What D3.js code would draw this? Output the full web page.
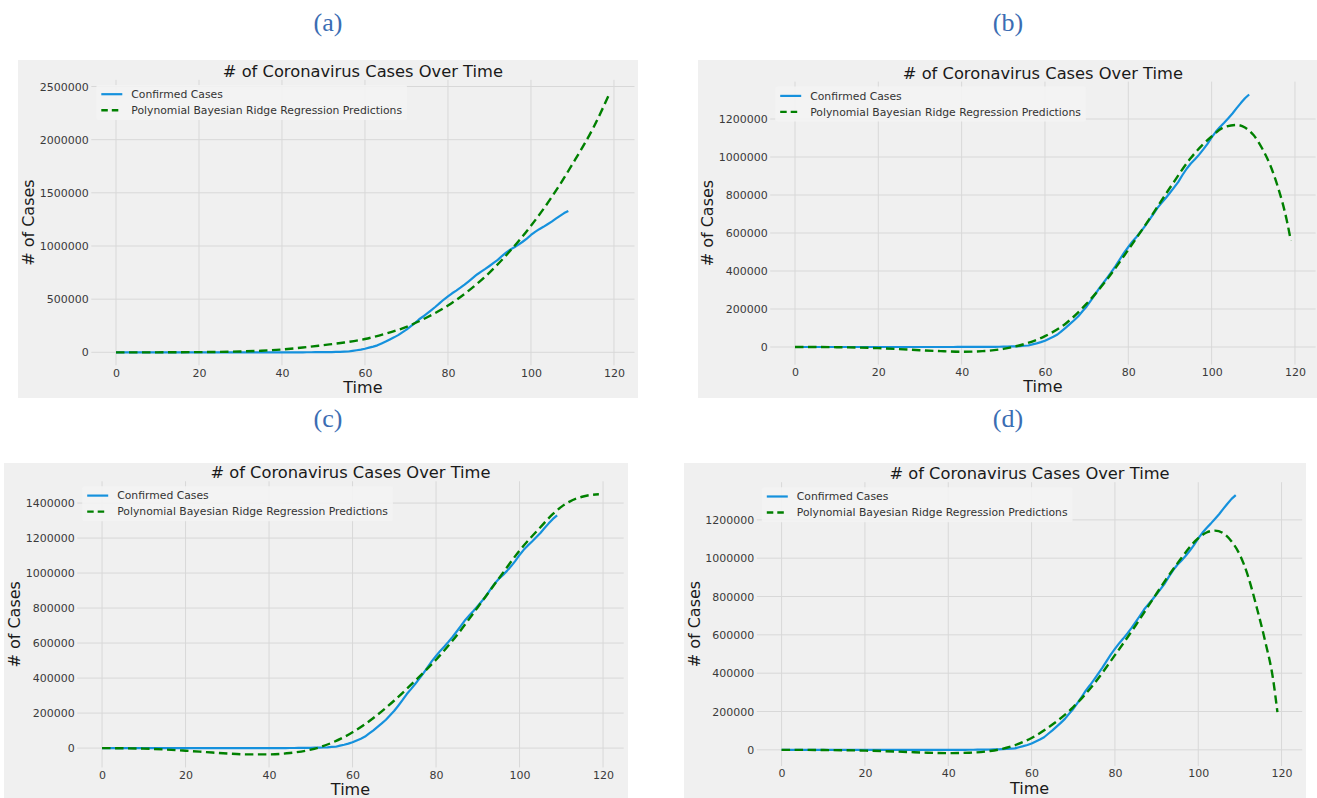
<!DOCTYPE html>
<html><head><meta charset="utf-8">
<script src="https://cdn.jsdelivr.net/npm/d3@7"></script>
<style>
body{margin:0;background:#fff;}
svg{display:block;}
text{font-family:"DejaVu Sans","Noto Sans",sans-serif;}
</style>
</head><body>
<svg id="chart" width="1317" height="798"></svg>
<script>
// ---------- DATA ----------
// Confirmed cases, day 0 .. 109
const confirmed = [
  1,1,2,2,5,5,5,5,5,7,
  8,8,11,11,11,12,12,12,12,12,
  13,13,14,14,14,14,14,14,14,14,
  16,16,16,16,16,16,17,25,32,
  75,100,124,158,221,319,435,541,704,994,
  1281,1663,2179,2727,3499,4632,6421,7783,13747,19273,25600,
  33276,43843,53736,65778,83836,101657,121478,140886,161807,188172,
  213242,243622,275367,308650,336802,366317,397121,428654,462780,496535,
  526396,555313,580619,607670,636350,667592,699706,732197,758809,784326,
  811865,840351,869170,905358,938154,965785,988197,1012582,1039909,1069424,
  1103461,1132539,1158040,1180375,1204351,1229331,1257023,1283929,1309550,1329260
];

// Polynomial Bayesian Ridge Regression predictions
const predDaysA = [0,5,10,15,20,25,30,35,40,45,50,55,60,65,70,75,80,85,90,95,100,105,110,115,119];
const predA     = [0,0,0,1000,2000,4000,8000,15000,27000,45000,68000,92000,125000,175000,240000,330000,440000,580000,750000,955000,1190000,1460000,1770000,2110000,2440000];

const predDaysB = [0,5,10,15,20,25,30,35,40,45,50,55,60,65,70,75,80,85,90,95,100,103,106,108,110,112,114,116,117,118,119];
const predB     = [0,0,-1000,-3000,-6000,-11000,-17000,-22000,-25000,-22000,-10000,15000,57000,124000,228000,359000,512000,672000,838000,995000,1108000,1157000,1169000,1155000,1117000,1050000,960000,835000,760000,670000,560000];

const predDaysC = [0,5,10,15,20,25,30,35,40,45,50,55,60,65,70,75,80,85,90,95,100,105,108,110,112,115,117,119];
const predC     = [0,-1000,-3000,-8000,-15000,-23000,-31000,-36000,-36000,-28000,-9000,30000,90000,172000,272000,385000,505000,645000,805000,968000,1128000,1262000,1338000,1378000,1408000,1436000,1446000,1450000];

const predDaysD = [0,5,10,15,20,25,30,35,40,45,50,55,60,65,70,75,80,85,90,95,100,102,104,106,108,110,112,114,116,118,119];
const predD     = [0,0,-1000,-2000,-4000,-7000,-11000,-15000,-17000,-15000,-6000,17000,62000,132000,223000,345000,494000,650000,816000,973000,1104000,1134000,1144000,1130000,1087000,1017000,903000,746000,572000,363000,197000];

const xTicks  = [0,20,40,60,80,100,120];
const yTicksA = [0,500000,1000000,1500000,2000000,2500000];
const yTicksB = [0,200000,400000,600000,800000,1000000,1200000];
const yTicksC = [0,200000,400000,600000,800000,1000000,1200000,1400000];
const yTicksD = [0,200000,400000,600000,800000,1000000,1200000];

const panelLabels = ["(a)","(b)","(c)","(d)"];
const titleText = "# of Coronavirus Cases Over Time";
const xLabelText = "Time";
const yLabelText = "# of Cases";
const legendLabels = ["Confirmed Cases","Polynomial Bayesian Ridge Regression Predictions"];

// ---------- LAYOUT ----------
const panels = [
  {label:panelLabels[0], days:predDaysA, pred:predA, yTicks:yTicksA, bg:[18,60,638,398],   ax:[91.3,634.5,79.9,365.3],   lab:[328,22]},
  {label:panelLabels[1], days:predDaysB, pred:predB, yTicks:yTicksB, bg:[698,60,1317,398], ax:[770.2,1315.6,81.6,364.6], lab:[1008,22]},
  {label:panelLabels[2], days:predDaysC, pred:predC, yTicks:yTicksC, bg:[4,463,628,798],   ax:[77.2,623.7,481.3,767.4],  lab:[328,418]},
  {label:panelLabels[3], days:predDaysD, pred:predD, yTicks:yTicksD, bg:[684,463,1306,798],ax:[756.8,1302.2,482.2,766],  lab:[1008,418]}
];

const BLUE = "#1591dd", GREEN = "#008000", GRID = "#d8d8d8", BG = "#f0f0f0";
const svg = d3.select("#chart");

panels.forEach(p => {
  const g = svg.append("g");
  const [bx0,by0,bx1,by1] = p.bg;
  g.append("rect").attr("x",bx0).attr("y",by0).attr("width",bx1-bx0).attr("height",by1-by0).attr("fill",BG);

  // panel label
  svg.append("text").attr("x",p.lab[0]).attr("y",p.lab[1])
    .attr("text-anchor","middle").attr("dominant-baseline","central")
    .style("font-family","'Liberation Serif','Times New Roman',serif")
    .style("font-size","26px").attr("fill","#3b6db3").text(p.label);

  const [L,R,T,B] = p.ax;
  // auto margins like matplotlib (5%)
  const xMin = 0, xMax = d3.max([confirmed.length-1, d3.max(p.days)]);
  const xPad = (xMax-xMin)*0.05;
  const x = d3.scaleLinear().domain([xMin-xPad, xMax+xPad]).range([L,R]);
  const allY = confirmed.concat(p.pred);
  const yLo = d3.min(allY), yHi = d3.max(allY), yPad = (yHi-yLo)*0.05;
  const y = d3.scaleLinear().domain([yLo-yPad, yHi+yPad]).range([B,T]);

  // grid
  g.append("g").selectAll("line").data(xTicks).join("line")
    .attr("x1",d=>x(d)).attr("x2",d=>x(d)).attr("y1",T).attr("y2",B)
    .attr("stroke",GRID).attr("stroke-width",1);
  g.append("g").selectAll("line").data(p.yTicks).join("line")
    .attr("x1",L).attr("x2",R).attr("y1",d=>y(d)).attr("y2",d=>y(d))
    .attr("stroke",GRID).attr("stroke-width",1);

  // axes
  const xAxis = g.append("g").attr("transform",`translate(0,${B})`)
    .call(d3.axisBottom(x).tickValues(xTicks).tickSize(0).tickPadding(3.5).tickFormat(d3.format("d")));
  const yAxis = g.append("g").attr("transform",`translate(${L},0)`)
    .call(d3.axisLeft(y).tickValues(p.yTicks).tickSize(0).tickPadding(2.5).tickFormat(d3.format("d")));
  [xAxis,yAxis].forEach(a => {
    a.select(".domain").remove();
    a.selectAll("text").style("font-family","'DejaVu Sans',sans-serif").style("font-size","11px").attr("fill","#3a3a3a");
  });

  // lines
  const lineC = d3.line().x((d,i)=>x(i)).y(d=>y(d));
  g.append("path").datum(confirmed).attr("d",lineC)
    .attr("fill","none").attr("stroke",BLUE).attr("stroke-width",2.2).attr("stroke-linejoin","round");
  const lineP = d3.line().x(d=>x(d[0])).y(d=>y(d[1])).curve(d3.curveMonotoneX);
  g.append("path").datum(p.days.map((d,i)=>[d,p.pred[i]])).attr("d",lineP)
    .attr("fill","none").attr("stroke",GREEN).attr("stroke-width",2.4).attr("stroke-dasharray","8.5,4.5");

  // legend
  const lx = L+5, ly = T+5;
  const leg = g.append("g");
  const box = leg.append("rect").attr("x",lx).attr("y",ly).attr("height",35).attr("fill","#f3f3f3").attr("fill-opacity",0.9).attr("rx",2);
  let maxW = 0;
  legendLabels.forEach((t,i) => {
    const cy = ly + 9.3 + i*16;
    leg.append("line").attr("x1",lx+5).attr("x2",lx+26).attr("y1",cy).attr("y2",cy)
      .attr("stroke", i===0?BLUE:GREEN).attr("stroke-width", i===0?2.2:2.4)
      .attr("stroke-dasharray", i===0?null:"6.5,4");
    const tx = leg.append("text").attr("x",lx+35).attr("y",cy).attr("dy","0.35em")
      .style("font-size","10.8px").attr("fill","#333").text(t);
    maxW = Math.max(maxW, tx.node().getComputedTextLength());
  });
  box.attr("width", maxW + 40);

  // title and axis labels
  g.append("text").attr("x",(L+R)/2).attr("y",T-3).attr("text-anchor","middle")
    .style("font-size","16.3px").attr("fill","#1a1a1a").text(titleText);
  g.append("text").attr("x",(L+R)/2).attr("y",B+27.5).attr("text-anchor","middle")
    .style("font-size","16px").attr("fill","#1a1a1a").text(xLabelText);
  g.append("text").attr("transform",`translate(${L-62.5},${(T+B)/2}) rotate(-90)`)
    .attr("text-anchor","middle").attr("dominant-baseline","central")
    .style("font-size","16px").attr("fill","#1a1a1a").text(yLabelText);
});
</script>
</body></html>
